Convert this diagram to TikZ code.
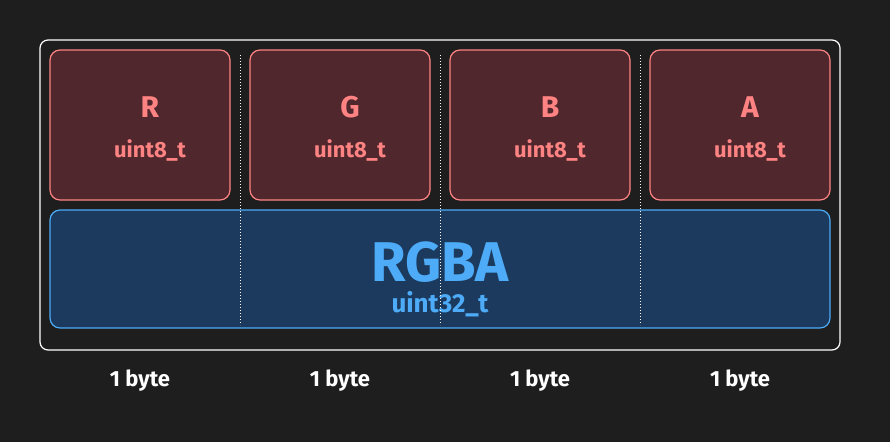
\documentclass[tikz,border=0pt]{standalone}
\usepackage{fontspec}
\setmainfont{Fira Sans}
\usepackage{tikz}
\usetikzlibrary{positioning}
\definecolor{bg}{HTML}{1E1E1E}
\definecolor{redline}{HTML}{FF8383}
\definecolor{redfill}{HTML}{4F272D}
\definecolor{blueline}{HTML}{4DABF7}
\definecolor{bluefill}{HTML}{1B3A5E}
\begin{document}
\begin{tikzpicture}[x=1pt,y=-1pt, every node/.style={font=\fontsize{22}{26}\selectfont\bfseries}]
\tikzstyle{byte}=[draw=redline,fill=redfill,rounded corners=10pt,line width=1.2pt]
\fill[bg] (0,0) rectangle (890,442);
\useasboundingbox (0,0) rectangle (890,442);
\draw[white,rounded corners=8pt,line width=1.2pt] (40,40) rectangle (840,350);
\foreach \x/\lab [count=\i] in {50/R,250/G,450/B,650/A} {
  \draw[byte] (\x,50) rectangle ++(180,150);
  \node[text=redline,font=\fontsize{30}{34}\selectfont\bfseries] (c\i) at (\x+100,107) {\lab};
  \node[text=redline] (t\i) at (\x+100,150) {uint8\_t};
}
\draw[draw=blueline,fill=bluefill,rounded corners=10pt,line width=1.2pt] (50,210) rectangle (830,328);
\node[text=blueline,font=\fontsize{56}{60}\selectfont\bfseries,inner sep=0pt] (rgba) at (440,262) {RGBA};
\node[text=blueline,font=\fontsize{26}{30}\selectfont\bfseries,inner sep=0pt] (u32) at (440,304) {uint32\_t};
\foreach \x in {240,440,640}
  \draw[white,dotted,line width=1pt] (\x,55) -- (\x,325);
\foreach \x [count=\i] in {140,340,540,740}
  \node[text=white] (b\i) at (\x,381) {1 byte};
\end{tikzpicture}
\end{document}
